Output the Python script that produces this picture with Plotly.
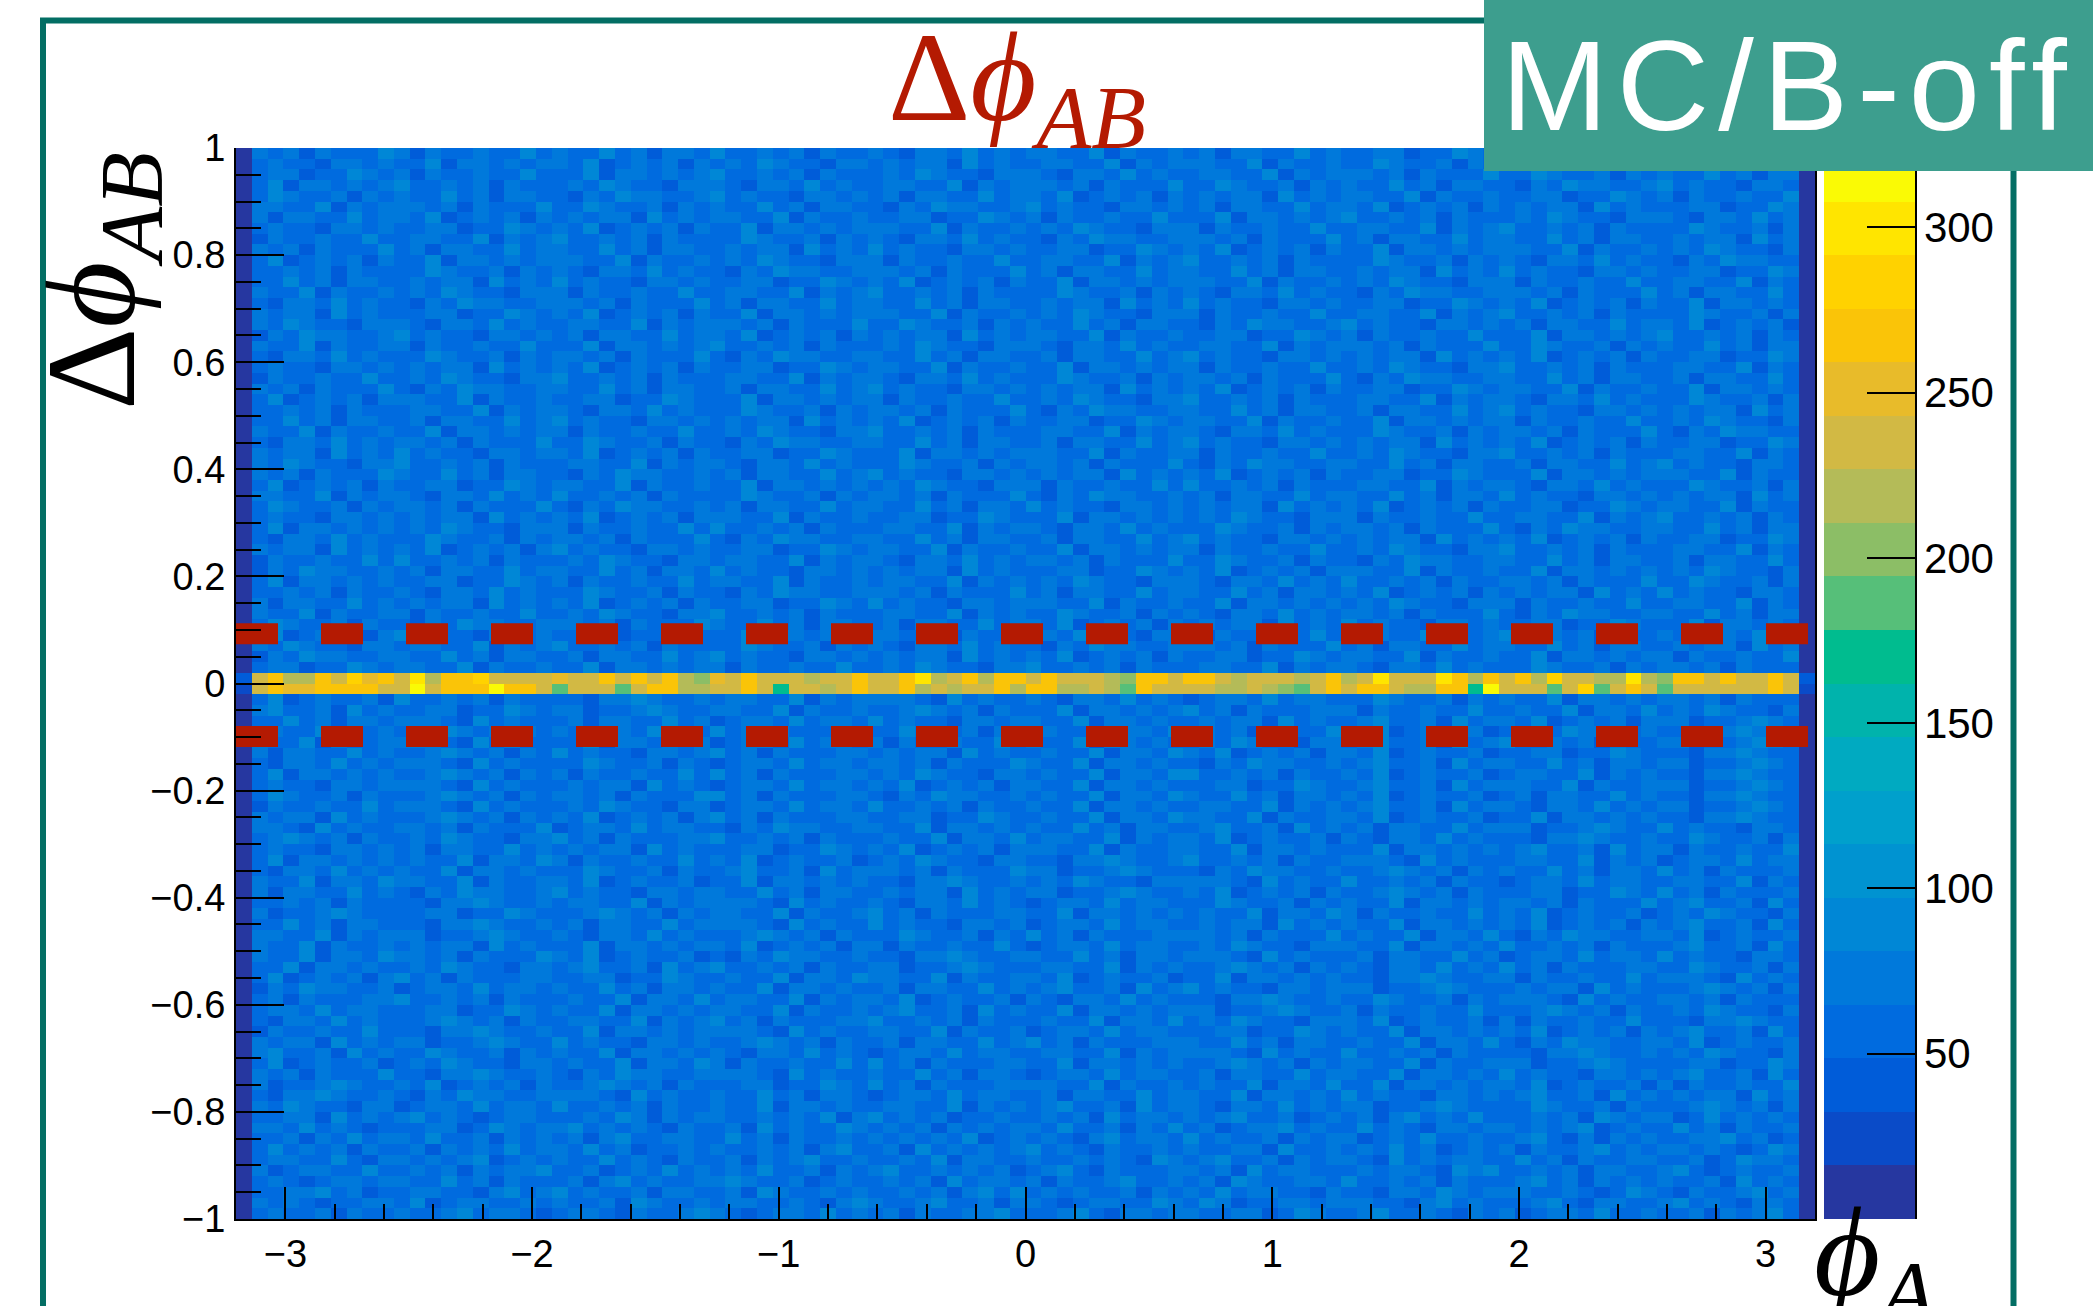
import numpy as np
import plotly.graph_objects as go

# ---------------------------------------------------------------------------
# 2D histogram: phi_A (x) versus delta-phi_AB (y), 100 x 100 bins
# ---------------------------------------------------------------------------
PHI_EDGES = np.linspace(-3.2, 3.2, 101)
DPHI_EDGES = np.linspace(-1.0, 1.0, 101)

Z_MIN, Z_MAX = 0.0, 324.0
N_LEVELS = 20                                  # colour contours of the palette
LEVEL_WIDTH = (Z_MAX - Z_MIN) / N_LEVELS       # counts per contour

# Counts in the two rows around delta-phi = 0 (the correlation band)
BAND_TOP = [    # 0 < dphi < 0.02
    40, 237, 268, 218, 218, 268, 237, 290, 250, 268,
    237, 305, 218, 268, 268, 290, 237, 237, 237, 237,
    250, 237, 228, 268, 237, 268, 237, 268, 218, 200,
    250, 237, 268, 228, 237, 237, 218, 237, 237, 268,
    237, 237, 268, 305, 218, 237, 268, 218, 268, 268,
    237, 268, 228, 237, 237, 218, 195, 268, 268, 237,
    268, 268, 237, 218, 237, 237, 237, 218, 237, 268,
    218, 237, 305, 237, 237, 237, 300, 268, 218, 268,
    237, 268, 218, 290, 237, 237, 218, 218, 300, 218,
    205, 268, 268, 237, 268, 237, 237, 268, 237, 40,
]
BAND_BOTTOM = [  # -0.02 < dphi < 0
    30, 237, 268, 250, 250, 268, 268, 268, 268, 237,
    237, 315, 237, 268, 268, 268, 310, 268, 268, 237,
    185, 237, 237, 237, 185, 237, 268, 268, 218, 218,
    237, 237, 268, 237, 178, 237, 237, 218, 237, 268,
    237, 237, 268, 218, 237, 218, 237, 237, 268, 218,
    268, 268, 218, 218, 237, 218, 190, 268, 237, 237,
    237, 237, 218, 218, 237, 218, 205, 185, 237, 268,
    237, 268, 268, 237, 218, 218, 268, 268, 170, 310,
    237, 237, 237, 190, 237, 280, 190, 237, 268, 237,
    190, 237, 237, 237, 237, 237, 237, 268, 237, 25,
]

# Uncorrelated background, one digit per bin = contour level of the count
# rows for -1 < dphi < -0.02 (bottom to top)
BG_BELOW = [
    "0343342433 4334534432 3443243345 4323443534 3424334453 3345324434 4334423543 3453343243 4234435334 3342434530",
    "0434323344 3523443343 4334254334 3443343245 4334533424 4323443354 3542334434 4433245343 3345324433 4534324430",
    "0334453423 3443324534 5343342443 3425433434 3343424535 3434334243 4353443324 3324435434 4433432354 3243345340",
    "0343234434 4335342433 3424534334 4543342343 3434253443 4243345334 3425433443 5334342433 3453424343 4334253430",
    "0423443353 3434243445 3342343534 3435334243 4533434342 3453243334 4342534433 3434432545 3343424433 4532343340",
    "0344335324 4343452343 4335343243 3424345334 3343524433 4334343254 3453342434 4325343443 3534243344 3342354430",
    "0353434243 3424343534 4353423343 4334342453 3425343434 5343243343 4334425334 3435342343 4243345343 4434323540",
    "0334243534 4353342434 3424533443 3534243343 4343435234 3432453443 5343342434 4234353343 3453242434 3344534230",
    "0443534323 3344235434 4534343243 3425343354 3434243434 4353342435 3423445343 3534324434 4343452343 3534243340",
    "0334425343 4534323443 3343542434 4334343524 5343423343 3434253443 4345334234 3424534353 3343425434 4235343430",
    "0435433244 2344353443 5334342433 4335244343 3443352434 3453342534 4324435343 4423345433 3354334243 3345434240",
    "0324454334 3243544334 4443253433 4335342443 2344353443 3424433534 4335244343 5343324434 3453342534 3434425340",
    "0423345433 4352343424 3345434243 3344233543 5342433344 4433524334 3433524435 3352443434 4352343342 4243343350",
    "0434243335 3324454334 3243544334 4443253433 4335342443 2344353443 3424433534 4335244343 5343324434 3453342530",
    "0352343342 3435433244 3433524435 4243343353 5342433344 3352443434 3345434243 4433524334 4423345433 3344233540",
    "0453342534 3354334243 4335244343 4324435343 2344353443 3443352434 4443253433 5334342433 3324454334 3435433240",
    "0434425343 4423345433 5343324434 3345434243 3424433534 5342433344 4335342443 3433524435 3243544334 4352343340",
    "0243343353 3324454334 3352443434 4443253433 4433524334 2344353443 3344233543 4335244343 4352343424 3453342530",
    "0324435343 3345434243 3443352434 5342433344 5334342433 3433524435 3435433244 4352343342 4243343353 3324454330",
    "0344353443 3344233543 4335244343 4433524334 3453342534 3352443434 4423345433 4243343353 3345434243 3435433240",
    "0342433344 5334342433 3433524435 3443352434 4352343342 4324435343 3324454334 3354334243 4443253433 4434243330",
    "0243544334 2344353443 4335342443 4335244343 3424433534 3453342534 5343324434 4423345433 3434425343 3345434240",
    "0352343424 5342433344 3344233543 3433524435 4433524334 4352343342 3352443434 3324454334 4243343353 4443253430",
    "0335244343 3435433244 3453342534 5334342433 4423345433 3443352434 3345434243 4324435343 5342433344 3354334240",
    "0433524435 4434243335 4352343342 3243544334 3324454334 4335342443 4443253433 3424433534 2344353443 5343324430",
    "0433524334 3434425343 3352443434 4352343424 4243343353 2344353443 3435433244 4335244343 5334342433 3453342530",
    "0443352434 4423345433 4324435343 3345434243 3354334243 5342433344 4434243335 3433524435 3243544334 4352343340",
    "0335342443 3324454334 3424433534 4443253433 5343324434 2344353443 3434425343 4335244343 4352343424 3453342530",
    "0423345433 3344233543 3345434243 4433524334 5342433344 3352443434 3433524435 4243343353 4352343342 3435433240",
    "0334342433 3324454334 3443352434 4443253433 4324435343 2344353443 3354334243 4335244343 4434243335 3453342530",
    "0424433534 3243544334 5343324434 4335342443 3434425343 4423345433 4352343424 3345434243 3344233543 5342433340",
    "0433524435 4433524334 4352343342 3352443434 3324454334 3435433244 4443253433 5334342433 2344353443 3443352430",
    "0324435343 4335244343 3354334243 3453342534 4434243335 4423345433 3243544334 3345434243 4335342443 5342433340",
    "0352443434 3433524435 4243343353 4352343342 3435433244 3324454334 5334342433 4443253433 3443352434 2344353440",
    "0343324434 3424433534 3434425343 3344233543 4352343424 4433524334 4335244343 3352443434 3453342534 4243343350",
    "0345434243 3435433244 5342433344 5334342433 3433524435 3443352434 4352343342 4324435343 3324454334 3354334240",
    "0443253433 4434243335 2344353443 3243544334 4335244343 4335342443 3453342534 3424433534 4423345433 5343324430",
    "0434425343 3345434243 4352343424 5342433344 3344233543 3433524435 4433524334 4352343342 3352443434 3324454330",
    "0243343353 4443253433 3435433244 2344353443 5334342433 4335244343 3443352434 3453342534 4324435343 4423345430",
    "0354334243 3345434243 4434243335 5342433344 3243544334 3433524435 4335342443 4352343342 3424433534 3324454330",
    "0343324434 4443253433 3434425343 2344353443 4352343424 4335244343 3344233543 3453342534 4433524334 4423345430",
    "0352443434 3345434243 4243343353 5342433344 3435433244 3433524435 5334342433 4352343342 3443352434 3324454330",
    "0324435343 4443253433 3354334243 2344353443 4434243335 4335244343 3243544334 3453342534 4335342443 4423345430",
    "0424433534 3345434243 5343324434 5342433344 3434425343 3433524435 4352343424 4352343342 3344233543 3324454330",
    "0433524334 4443253433 3352443434 2344353443 4243343353 4335244343 3435433244 3453342534 5334342433 4423345430",
    "0443352434 3345434243 4324435343 5342433344 3354334243 3433524435 4434243335 4352343342 3243544334 3324454330",
    "0335342443 4443253433 3424433534 2344353443 5343324434 4335244343 3434425343 3453342534 4352343424 4423345430",
    "0453342534 3344233543 4423345433 4433524334 3345434243 3352443434 5342433344 4243343353 3433524435 3435433240",
    "0352343342 5334342433 3324454334 3443352434 4443253433 4324435343 2344353443 3354334243 4335244343 4434243330",
]
# rows for 0.02 < dphi < 1 (bottom to top)
BG_ABOVE = [
    "0344233543 4433524334 3352443434 4243343353 3435433244 5334342433 3443352434 4324435343 3354334243 4434243330",
    "0243544334 4335342443 3424433534 5343324434 3434425343 4352343424 3344233543 4433524334 3352443434 4243343350",
    "0435433244 3443352434 5334342433 3354334243 4324435343 3243544334 4434243335 3424433534 4335342443 3434425340",
    "0352343424 5343324434 3344233543 3352443434 4433524334 3435433244 4243343353 3443352434 5334342433 4324435340",
    "0354334243 3243544334 4434243335 4335342443 3424433534 4352343424 3434425343 5343324434 3344233543 3352443430",
    "0433524334 4243343353 3435433244 5334342433 3443352434 3354334243 4324435343 4434243335 3243544334 4335342440",
    "0424433534 3434425343 4352343424 3344233543 5343324434 4433524334 3352443434 3435433244 4243343353 3443352430",
    "0334342433 4324435343 3354334243 3243544334 4434243335 3424433534 4335342443 4352343424 3434425343 5343324430",
    "0352443434 3344233543 4243343353 4433524334 3443352434 3435433244 4324435343 5334342433 4434243335 3354334240",
    "0243544334 3424433534 4335342443 5343324434 3434425343 3344233543 4352343424 4433524334 3352443434 3435433240",
    "0243343353 5334342433 3435433244 3443352434 4324435343 4434243335 3354334243 3243544334 4335342443 3424433530",
    "0434425343 4352343424 5343324434 3344233543 4433524334 3352443434 4243343353 3435433244 5334342433 3443352430",
    "0324435343 3354334243 4434243335 3243544334 4335342443 3424433534 5343324434 3434425343 4352343424 3344233540",
    "0352443434 3435433244 4243343353 5334342433 3443352434 4324435343 3354334243 4434243335 3243544334 4335342440",
    "0343324434 3434425343 4352343424 4433524334 3344233543 3352443434 3435433244 4243343353 3443352434 5334342430",
    "0354334243 4434243335 3243544334 3424433534 4335342443 5343324434 3434425343 4352343424 3344233543 4433524330",
    "0443352434 4324435343 5334342433 3354334243 4434243335 3243544334 3424433534 4335342443 5343324434 3434425340",
    "0352343424 3344233543 4433524334 3352443434 3435433244 4243343353 5334342433 3443352434 4324435343 3354334240",
    "0434243335 4335342443 3243544334 3424433534 5343324434 3434425343 4352343424 3344233543 3352443434 4433524330",
    "0435433244 5334342433 3443352434 4324435343 3354334243 4434243335 3243544334 4335342443 3424433534 5343324430",
    "0434425343 5343324434 4352343424 3344233543 3352443434 4433524334 4243343353 3435433244 5334342433 3443352430",
    "0324435343 4434243335 3354334243 3243544334 4335342443 3424433534 5343324434 3434425343 4352343424 3344233540",
    "0433524334 3352443434 4243343353 3435433244 5334342433 3443352434 4324435343 3354334243 4434243335 3243544330",
    "0335342443 3424433534 5343324434 3434425343 4352343424 3344233543 4433524334 3352443434 4243343353 3435433240",
    "0334342433 3443352434 4324435343 3354334243 4434243335 3243544334 4335342443 3424433534 5343324434 3434425340",
    "0352343424 4433524334 3344233543 3352443434 4243343353 3435433244 5334342433 3443352434 4324435343 3354334240",
    "0434243335 3243544334 4335342443 3424433534 5343324434 3434425343 4352343424 3344233543 4433524334 3352443430",
    "0243343353 3435433244 5334342433 3443352434 4324435343 3354334243 4434243335 3243544334 4335342443 3424433530",
    "0343324434 3434425343 4352343424 3344233543 4433524334 3352443434 4243343353 3435433244 5334342433 3443352430",
    "0324435343 3354334243 4434243335 3243544334 4335342443 3424433534 5343324434 3434425343 4352343424 3344233540",
    "0433524334 4243343353 3352443434 5334342433 3435433244 4324435343 3443352434 4434243335 3354334243 4335342440",
    "0243544334 5343324434 3424433534 4352343424 3434425343 4433524334 3344233543 4243343353 3352443434 5334342430",
    "0435433244 4324435343 3443352434 4434243335 3354334243 4335342443 3243544334 5343324434 3424433534 4352343420",
    "0434425343 3344233543 4352343424 3352443434 4433524334 3435433244 4243343353 3443352434 5334342433 3354334240",
    "0324435343 3243544334 4434243335 3424433534 4335342443 3434425343 5343324434 3344233543 4352343424 3352443430",
    "0433524334 3435433244 4243343353 3443352434 5334342433 3354334243 4324435343 3243544334 4434243335 3424433530",
    "0335342443 3434425343 5343324434 3344233543 4352343424 3352443434 4433524334 3435433244 4243343353 3443352430",
    "0334342433 3354334243 4324435343 3243544334 4434243335 3424433534 4335342443 3434425343 5343324434 3344233540",
    "0352343424 3352443434 4433524334 3435433244 4243343353 3443352434 5334342433 3354334243 4324435343 3243544330",
    "0434243335 3424433534 4335342443 3434425343 5343324434 3344233543 4352343424 3352443434 4433524334 3435433240",
    "0243343353 3443352434 5334342433 3354334243 4324435343 3243544334 4434243335 3424433534 4335342443 3434425340",
    "0343324434 3344233543 4352343424 3352443434 4433524334 3435433244 4243343353 3443352434 5334342433 3354334240",
    "0424433534 4352343424 3434425343 4433524334 3344233543 4243343353 3352443434 5334342433 3435433244 4324435340",
    "0443352434 4434243335 3354334243 4335342443 3243544334 5343324434 3424433534 4352343424 3434425343 3344233540",
    "0354334243 4335342443 3243544334 5343324434 3424433534 4352343424 3434425343 4433524334 3344233543 4243343350",
    "0352443434 5334342433 3435433244 4324435343 3443352434 4434243335 3354334243 4335342443 3243544334 5343324430",
    "0344233543 4243343353 3352443434 5334342433 3435433244 4324435343 3443352434 4434243335 3354334243 4335342440",
    "0343324434 3352443434 4352343424 3435433244 3434425343 3443352434 4433524334 3354334243 3344233543 3243544330",
    "0434243335 4243343353 4335342443 5334342433 4324435343 4433524334 3424433534 3344233543 3243544334 3435433240",
]

# Selection window drawn on top of the histogram
CUT_UPPER = 0.093
CUT_LOWER = -0.099

COLORBAR_TICKS = [50, 100, 150, 200, 250, 300]

TITLE_TEXT = "Δ<i>ϕ</i><sub><i>AB</i></sub>"
X_TITLE_TEXT = "<i>ϕ</i><sub><i>A</i></sub>"
TAG_TEXT = '<span style="letter-spacing:9px">MC/B-off</span>'

# Colour of each of the 20 contour levels (bird-like palette, low to high)
LEVEL_COLORS = [
    "rgb(38,55,160)", "rgb(10,75,200)", "rgb(0,92,217)", "rgb(0,107,223)",
    "rgb(0,121,219)", "rgb(0,135,214)", "rgb(0,147,209)", "rgb(0,160,204)",
    "rgb(0,170,193)", "rgb(0,179,172)", "rgb(0,188,143)", "rgb(86,191,121)",
    "rgb(140,190,102)", "rgb(180,187,88)", "rgb(210,185,68)", "rgb(232,187,42)",
    "rgb(250,196,8)", "rgb(255,210,0)", "rgb(255,229,0)", "rgb(250,250,5)",
]


def decode(rows):
    out = []
    for i, r in enumerate(rows):
        d = r.replace(" ", "")
        if len(d) != 100:
            raise ValueError(f"row {i} has {len(d)} bins")
        out.append([(int(c) + 0.5) * LEVEL_WIDTH for c in d])
    return out


colorscale = []
for k, c in enumerate(LEVEL_COLORS):
    colorscale.append([k / N_LEVELS, c])
    colorscale.append([(k + 1) / N_LEVELS, c])

z = decode(BG_BELOW) + [BAND_BOTTOM, BAND_TOP] + decode(BG_ABOVE)

# page geometry (pixels)
W, H = 2093, 1306
PL, PR, PT, PB = 236, 1815, 148, 1219


def px(x):
    return (x - PL) / (PR - PL)


def py(y):
    return (PB - y) / (PB - PT)


SANS = "Liberation Sans, Arial, Helvetica, sans-serif"
SERIF = "Liberation Serif, Times New Roman, DejaVu Serif, serif"
CUT_RED = "#b41a02"
FRAME_TEAL = "#036e64"
TAG_TEAL = "#3d9e8e"

fig = go.Figure()
fig.add_trace(go.Heatmap(
    x=PHI_EDGES, y=DPHI_EDGES, z=z,
    zmin=Z_MIN, zmax=Z_MAX, zauto=False,
    colorscale=colorscale, zsmooth=False, hoverinfo="skip",
    colorbar=dict(
        x=px(1824), xanchor="left", y=0.5, yanchor="middle",
        len=1, lenmode="fraction", thickness=91, thicknessmode="pixels",
        xpad=0, ypad=0, outlinewidth=0,
        tickmode="array", tickvals=COLORBAR_TICKS,
        ticks="inside", ticklen=48, tickwidth=2, tickcolor="black",
        tickfont=dict(family=SANS, size=42, color="black"),
    ),
))

for yc in (CUT_UPPER, CUT_LOWER):
    fig.add_trace(go.Scatter(
        x=[PHI_EDGES[0], PHI_EDGES[-1]], y=[yc, yc], mode="lines",
        line=dict(color=CUT_RED, width=21, dash="42px,43px"),
        hoverinfo="skip", showlegend=False,
    ))

fig.update_layout(
    width=W, height=H, autosize=False,
    margin=dict(l=PL, r=W - PR, t=PT, b=H - PB, pad=0),
    paper_bgcolor="white", plot_bgcolor="white", showlegend=False,
    xaxis=dict(
        range=[PHI_EDGES[0], PHI_EDGES[-1]], tickmode="linear", tick0=0, dtick=1,
        ticks="inside", ticklen=32, tickwidth=2, tickcolor="black",
        showline=True, linecolor="black", linewidth=2, mirror=False,
        showgrid=False, zeroline=False, ticklabelstandoff=0,
        tickfont=dict(family=SANS, size=38, color="black"),
        minor=dict(ticks="inside", ticklen=15, tickwidth=2, tickcolor="black",
                   tick0=0, dtick=0.2, showgrid=False),
    ),
    yaxis=dict(
        range=[DPHI_EDGES[0], DPHI_EDGES[-1]], tickmode="linear", tick0=0, dtick=0.2,
        ticks="inside", ticklen=48, tickwidth=2, tickcolor="black",
        showline=True, linecolor="black", linewidth=2, mirror=True,
        showgrid=False, zeroline=False, ticklabelstandoff=1,
        tickfont=dict(family=SANS, size=38, color="black"),
        minor=dict(ticks="inside", ticklen=25, tickwidth=2, tickcolor="black",
                   tick0=0, dtick=0.05, showgrid=False),
    ),
    shapes=[
        # slide frame
        dict(type="rect", xref="paper", yref="paper",
             x0=px(43), x1=px(2013.5), y0=py(1345), y1=py(20.5),
             line=dict(color=FRAME_TEAL, width=6), fillcolor="rgba(0,0,0,0)",
             layer="above"),
        # palette axis line
        dict(type="line", xref="paper", yref="paper",
             x0=px(1916), x1=px(1916), y0=0, y1=1,
             line=dict(color="black", width=2), layer="above"),
    ],
    annotations=[
        dict(text=TITLE_TEXT, showarrow=False, xref="paper", yref="paper",
             x=px(886), xanchor="left", y=py(86), yanchor="middle",
             font=dict(family=SERIF, size=128, color=CUT_RED)),
        dict(text=TITLE_TEXT, showarrow=False, xref="paper", yref="paper",
             x=px(100), xanchor="center", y=py(281), yanchor="middle",
             textangle=-90,
             font=dict(family=SERIF, size=128, color="black")),
        dict(text=X_TITLE_TEXT, showarrow=False, xref="paper", yref="paper",
             x=px(1812), xanchor="left", y=py(1261), yanchor="middle",
             font=dict(family=SERIF, size=128, color="black")),
        dict(text=TAG_TEXT, showarrow=False, xref="paper", yref="paper",
             x=px(1484), xanchor="left", y=py(0), yanchor="top",
             width=609, height=171, bgcolor=TAG_TEAL, borderpad=0,
             borderwidth=0, align="center", valign="middle",
             font=dict(family=SANS, size=128, color="white")),
    ],
)

fig.write_html("out.html")
